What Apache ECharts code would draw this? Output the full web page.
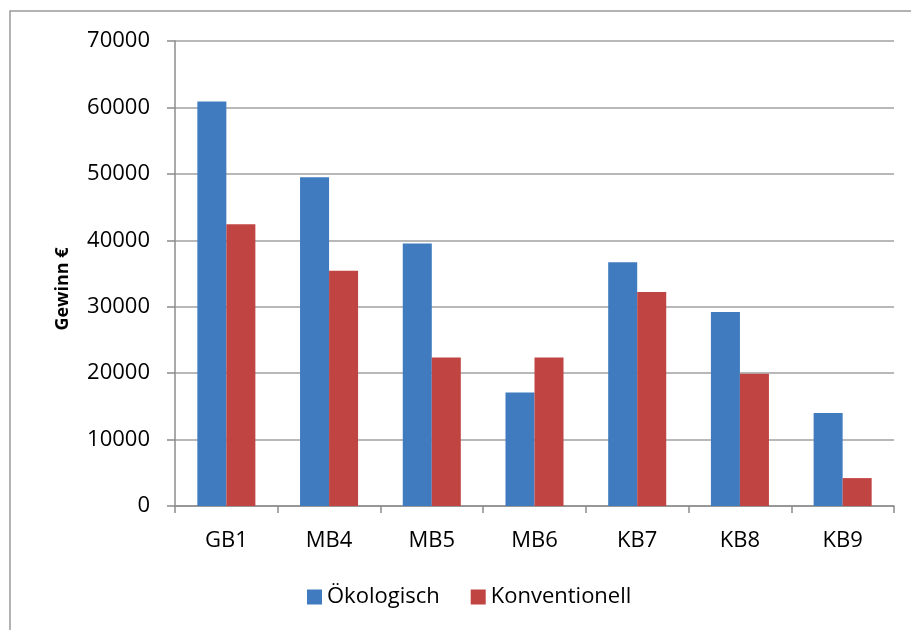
<!DOCTYPE html>
<html>
<head>
<meta charset="utf-8">
<script src="https://cdn.jsdelivr.net/npm/echarts@6/dist/echarts.min.js"></script>
<style>
html,body{margin:0;padding:0;background:#fff;}
#chart{width:911px;height:630px;}
</style>
</head>
<body>
<div id="chart"></div>
<script>
const categories = ['GB1', 'MB4', 'MB5', 'MB6', 'KB7', 'KB8', 'KB9'];
const oekologisch = [60900, 49500, 39500, 17100, 36700, 29200, 14000];
const konventionell = [42400, 35400, 22350, 22350, 32200, 19900, 4200];
const seriesNames = ['Ökologisch', 'Konventionell'];
const yAxisTitle = 'Gewinn €';

const FONT = '"Open Sans", sans-serif';
const chart = echarts.init(document.getElementById('chart'), null, {renderer: 'canvas'});
chart.setOption({
  animation: false,
  backgroundColor: '#ffffff',
  textStyle: {fontFamily: FONT},
  grid: {left: 175, right: 17, top: 41, bottom: 124, containLabel: false},
  legend: {
    left: 302, top: 581,
    itemWidth: 15, itemHeight: 15, itemGap: 31,
    icon: 'rect',
    textStyle: {fontFamily: FONT, fontSize: 22, color: '#000'},
    data: seriesNames
  },
  graphic: [
    {type: 'rect', shape: {x: 10, y: 11, width: 1200, height: 1200}, style: {fill: 'none', stroke: '#9a9a9a', lineWidth: 1.5}, silent: true, z: -10},
    {type: 'text', x: 63, y: 289, rotation: Math.PI / 2,
     style: {text: yAxisTitle, fontFamily: FONT, fontSize: 18, fontWeight: 'bold', fill: '#000', align: 'center', verticalAlign: 'middle'}}
  ],
  xAxis: {
    type: 'category',
    data: categories,
    axisLine: {lineStyle: {color: '#8c8c8c', width: 1.5}},
    axisTick: {show: true, length: 7, lineStyle: {color: '#8c8c8c', width: 1.5}},
    axisLabel: {fontFamily: FONT, fontSize: 22, color: '#000', margin: 24},
    splitLine: {show: false}
  },
  yAxis: {
    type: 'value',
    min: 0, max: 70000, interval: 10000,
    axisLine: {show: true, lineStyle: {color: '#8c8c8c', width: 1.5}},
    axisTick: {show: true, length: 8, lineStyle: {color: '#8c8c8c', width: 1.5}},
    axisLabel: {fontFamily: FONT, fontSize: 22, color: '#000', margin: 25, formatter: function (v) { return String(v); }},
    splitLine: {show: true, lineStyle: {color: '#a0a0a0', width: 1.5}}
  },
  series: [
    {name: seriesNames[0], type: 'bar', data: oekologisch, barGap: '0%', barCategoryGap: '43.5%',
     itemStyle: {color: '#3f7bbe'}},
    {name: seriesNames[1], type: 'bar', data: konventionell, barGap: '0%', barCategoryGap: '43.5%',
     itemStyle: {color: '#c04442'}}
  ]
});
</script>
</body>
</html>
